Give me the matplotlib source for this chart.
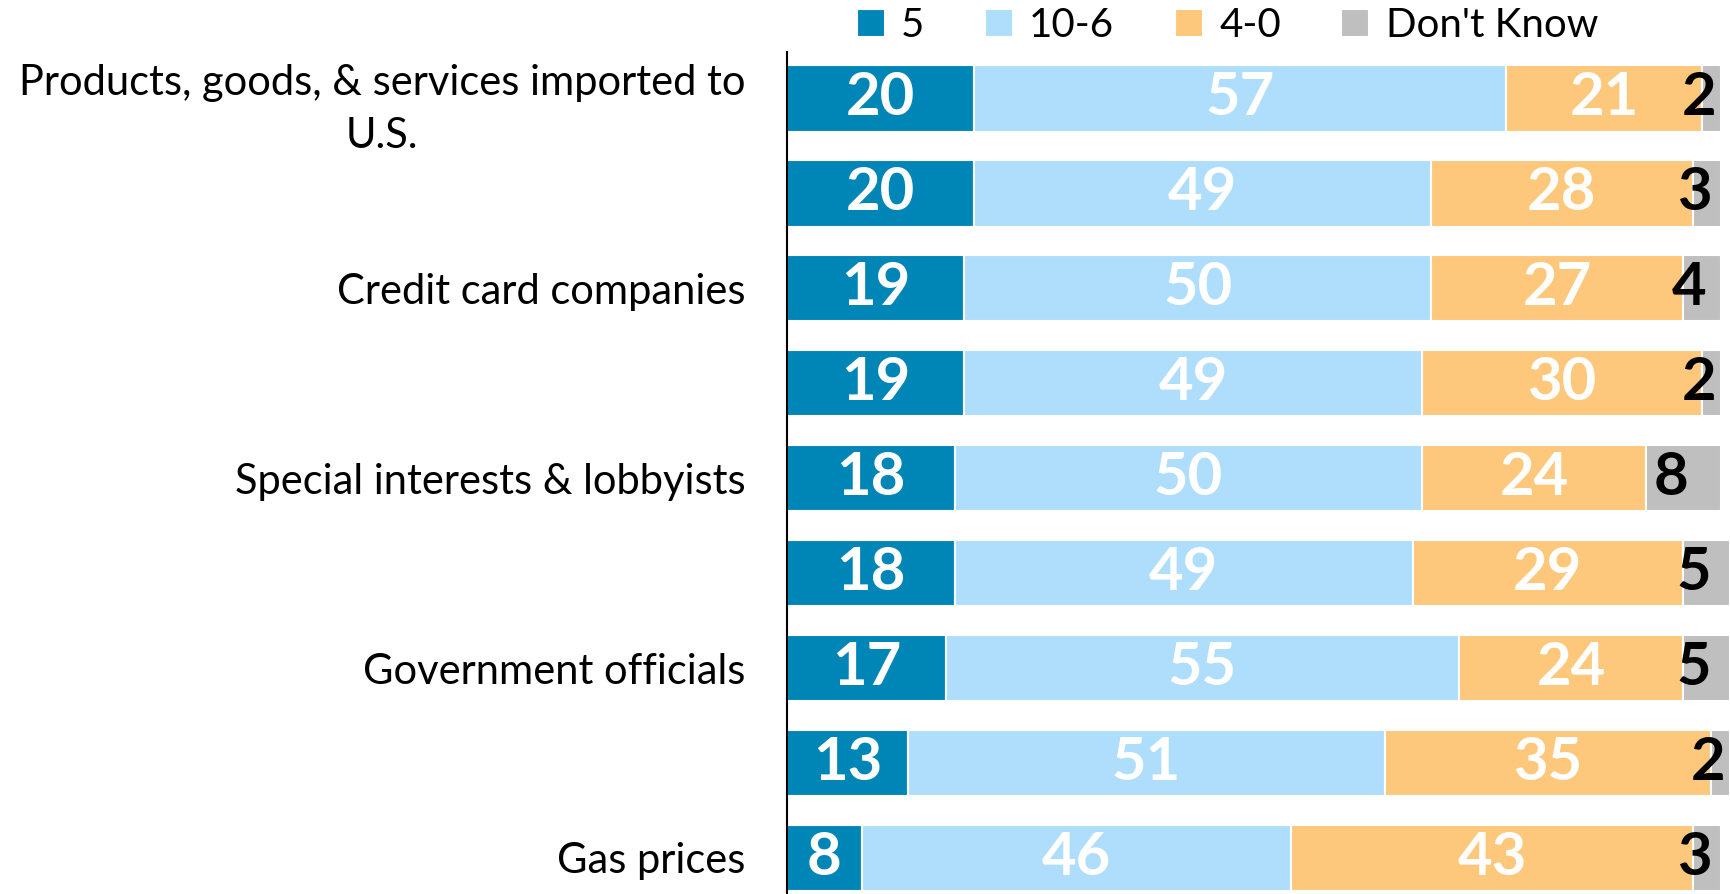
import matplotlib.pyplot as plt
import numpy as np

plt.rcParams['font.family'] = ['Lato', 'DejaVu Sans']

# rows top to bottom, only every other row carries a label in the original
categories = ['Products, goods, & services imported to\nU.S.', '',
              'Credit card companies', '',
              'Special interests & lobbyists', '',
              'Government officials', '',
              'Gas prices']
series_names = ['5', '10-6', '4-0', "Don't Know"]
val_5 = [20, 20, 19, 19, 18, 18, 17, 13, 8]
val_10_6 = [57, 49, 50, 49, 50, 49, 55, 51, 46]
val_4_0 = [21, 28, 27, 30, 24, 29, 24, 35, 43]
val_dk = [2, 3, 4, 2, 8, 5, 5, 2, 3]

colors = ['#0086B6', '#AEDEFC', '#FEC87C', '#BFBFBF']
label_colors = ['white', 'white', 'white', 'black']

fig = plt.figure(figsize=(17.3, 8.94), dpi=100)
ax = fig.add_axes([0.4549, 0.0, 0.5451, 0.942])

y = np.arange(len(categories))
left = np.zeros(len(categories))
for name, vals, col, lcol in zip(series_names, [val_5, val_10_6, val_4_0, val_dk],
                                 colors, label_colors):
    vals = np.array(vals, dtype=float)
    ax.barh(y, vals, left=left, height=0.7, color=col, edgecolor='white',
            linewidth=1.5, label=name)
    for yi, l, v in zip(y, left, vals):
        # small "Don't Know" labels sit a bit left of their segment centre
        off = -9 if name == "Don't Know" else 0
        ax.annotate(str(int(v)), (l + v / 2, yi), xytext=(off, 0),
                    textcoords='offset points', ha='center', va='center',
                    color=lcol, fontsize=43, fontweight='bold')
    left += vals

ax.set_xlim(0, 101)
ax.set_ylim(8.38, -0.49)
ax.set_yticks(y)
ax.set_yticklabels(categories, fontsize=30, multialignment='center',
                   linespacing=1.5)
ax.tick_params(axis='y', length=0, pad=30)
ax.set_xticks([])
for s in ['top', 'right', 'bottom']:
    ax.spines[s].set_visible(False)
ax.spines['left'].set_linewidth(1.5)

ax.legend(loc='lower center', bbox_to_anchor=(0.467, 0.99), ncol=4, frameon=False,
          fontsize=29, handlelength=0.7, handleheight=0.7, handletextpad=0.4,
          columnspacing=1.5, borderaxespad=0)

fig.savefig('out.png', dpi=100)
